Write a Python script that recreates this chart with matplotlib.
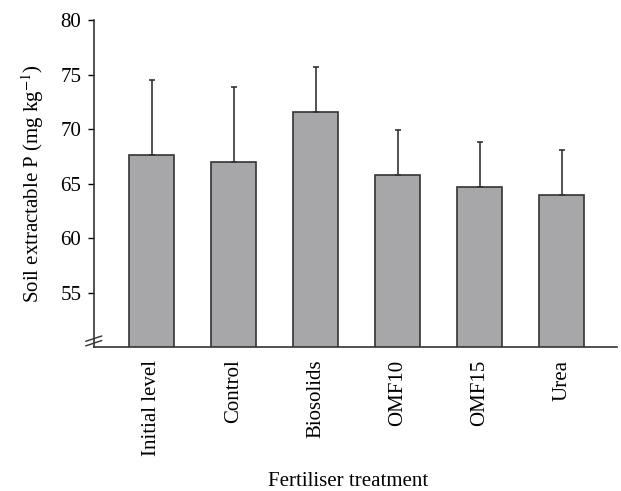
import matplotlib.pyplot as plt
import numpy as np

plt.rcParams['font.family'] = ['Liberation Serif', 'DejaVu Serif']
plt.rcParams['mathtext.fontset'] = 'stix'

# data
treatments = ['Initial level', 'Control', 'Biosolids', 'OMF10', 'OMF15', 'Urea']
means = [67.6, 67.0, 71.6, 65.8, 64.7, 64.0]
upper = [74.5, 73.9, 75.7, 69.9, 68.8, 68.1]
errs = [u - m for u, m in zip(upper, means)]

fig = plt.figure(figsize=(6.21, 4.91), dpi=100)
ax = fig.add_axes([0.151, 0.293, 0.843, 0.666])

x = np.arange(len(treatments))
ax.bar(x, means, width=0.55, color='#a7a7a9', edgecolor='#333333', linewidth=1.2,
       yerr=[[0] * len(errs), errs], capsize=2,
       error_kw={'ecolor': '#333333', 'elinewidth': 1.2, 'capthick': 1.2})

ax.set_ylim(50, 80)
ax.set_xlim(-0.71, 5.68)
ax.set_yticks([55, 60, 65, 70, 75, 80])
ax.set_xticks(x)
ax.set_xticklabels(treatments, rotation=90)
ax.tick_params(axis='x', length=0, labelsize=15, pad=9)
ax.tick_params(axis='y', length=4, direction='out', labelsize=15, width=1, pad=5)

for s in ['top', 'right']:
    ax.spines[s].set_visible(False)
for s in ['left', 'bottom']:
    ax.spines[s].set_color('#333333')
    ax.spines[s].set_linewidth(1.2)

# axis break marks
for dy in (0.012, 0.026):
    ax.plot([-0.015, 0.015], [dy - 0.008, dy + 0.008], transform=ax.transAxes,
            color='#333333', lw=1, clip_on=False)

ax.set_ylabel('Soil extractable P (mg kg$^{-1}$)', fontsize=15, labelpad=10)
fig.text(0.56, 0.01, 'Fertiliser treatment', ha='center', fontsize=15)

fig.savefig('out.png', dpi=100)
